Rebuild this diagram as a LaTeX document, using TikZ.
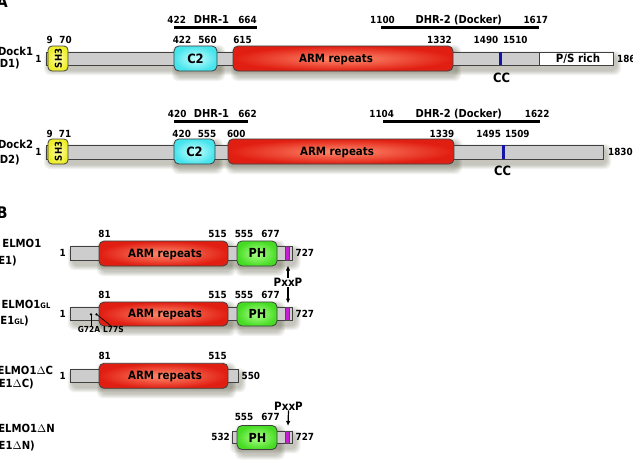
\documentclass[tikz,border=0pt]{standalone}
\usepackage{graphicx}
\usepackage{fontspec}
\setmainfont{DejaVu Sans}[FakeStretch=0.9]
\usetikzlibrary{arrows.meta}
\definecolor{armout}{RGB}{225,30,18}
\definecolor{armin}{RGB}{255,140,110}
\definecolor{c2out}{RGB}{70,228,236}
\definecolor{c2in}{RGB}{200,255,255}
\definecolor{sh3out}{RGB}{238,238,40}
\definecolor{sh3in}{RGB}{255,255,170}
\definecolor{phout}{RGB}{70,220,35}
\definecolor{phin}{RGB}{175,255,140}
\definecolor{pxxpc}{RGB}{200,30,210}
\definecolor{ccblue}{RGB}{20,20,170}
\definecolor{barg}{RGB}{205,205,205}
\definecolor{shadowcol}{RGB}{70,70,45}
\newcommand\pshadow[4]{\foreach \k in {0,1,2,3,4}{\fill[shadowcol, opacity=0.07, rounded corners=6pt] ({#1+2-\k},{#2+3-\k}) rectangle ({#3+4+\k},{#4+6+\k});}}
\tikzset{
  bar/.style={draw=black!75, line width=0.8pt, fill=barg},
  dom/.style={draw=black!75, line width=0.8pt, rounded corners=5pt},
  arm/.style={dom, inner color=armin, outer color=armout},
  ctwo/.style={dom, inner color=c2in, outer color=c2out},
  shthree/.style={dom, rounded corners=4pt, inner color=sh3in, outer color=sh3out},
  ph/.style={dom, inner color=phin, outer color=phout},
  num/.style={inner sep=0pt, font=\bfseries\fontsize{9.8}{11}\selectfont, text height=7.1pt, text depth=0pt},
  lab/.style={inner sep=0pt, font=\bfseries\fontsize{11.2}{13}\selectfont, text height=8.2pt, text depth=0pt, anchor=east},
  dhr/.style={inner sep=0pt, font=\bfseries\fontsize{11}{13}\selectfont, text height=8pt, text depth=0pt},
  domtxt/.style={inner sep=0pt, font=\bfseries\fontsize{11.4}{13}\selectfont, text height=8.3pt, text depth=0pt},
  bigtxt/.style={inner sep=0pt, font=\bfseries\fontsize{12.8}{15}\selectfont, text height=9.3pt, text depth=0pt},
  phtxt/.style={inner sep=0pt, font=\bfseries\fontsize{12.5}{15}\selectfont, text height=9.1pt, text depth=0pt},
  shtxt/.style={inner sep=0pt, font=\bfseries\fontsize{9.5}{11}\selectfont},
  muttxt/.style={inner sep=0pt, font=\bfseries\fontsize{8.3}{10}\selectfont, text height=6pt, text depth=0pt},
  pxtxt/.style={inner sep=0pt, font=\bfseries\fontsize{11.5}{13}\selectfont, text height=8.4pt, text depth=0pt},
  panel/.style={inner sep=0pt, font=\bfseries\fontsize{16}{18}\selectfont, anchor=base west},
  dhrline/.style={line width=3pt},
  arr/.style={line width=1.2pt, -{Latex[length=5pt,width=4.5pt]}},
  mutline/.style={line width=0.7pt},
}
\begin{document}
\begin{tikzpicture}[x=1pt,y=-1pt]
\useasboundingbox (0,0) rectangle (633,471);
\clip (0,0) rectangle (633,471);

% panel letters
\node[panel] (pA) at (-3.5,7.5) {A};
\node[panel] (pB) at (-3.5,218.3) {B};

% ================= Dock1 =================
\pshadow{46}{52}{613}{65}
\pshadow{233}{46}{453}{71}
\pshadow{174}{46}{217}{71}
\draw[bar] (46,52) rectangle (539,65);
\draw[bar, fill=white] (539,52) rectangle (613,65);
\node[domtxt] (ps1) at (578,58.5) {P/S rich};
\fill[ccblue] (499.2,52.4) rectangle (502,64.6);
\path[shthree] (48,46) rectangle (68,71);
\node[shtxt] (sh31) at (58.3,58.5) {\rotatebox{90}{SH3}};
\path[ctwo] (174,46) rectangle (217,71);
\node[bigtxt] (c21) at (195.5,58.5) {C2};
\path[arm] (233,46) rectangle (453,71);
\node[domtxt] (arm1) at (336,58.5) {ARM repeats};

\node[lab] (d1a) at (33.3,51) {Dock1};
\node[lab] (d1b) at (20,63.8) {(D1)};
\node[num, anchor=east] (d1s) at (41.7,58.8) {1};
\node[num, anchor=west] (d1e) at (617,58.5) {1865};
\node[num] at (49.7,40) {9};
\node[num] at (65.5,40) {70};
\node[num] at (182,40) {422};
\node[num] at (207.5,40) {560};
\node[num] at (242.5,40) {615};
\node[num] at (439.5,40) {1332};
\node[num] at (486,40) {1490};
\node[num] at (515.3,40) {1510};
\node[bigtxt] (cc1) at (501.7,77.5) {CC};

\coordinate (h1a) at (174,27.7); \coordinate (h1b) at (257,27.7);
\draw[dhrline] (h1a) -- (h1b);
\node[num] at (176.7,19.5) {422};
\node[dhr] at (211.5,19.5) {DHR-1};
\node[num] at (247.5,19.5) {664};
\coordinate (h2a) at (381,27.7); \coordinate (h2b) at (539,27.7);
\draw[dhrline] (h2a) -- (h2b);
\node[num] at (382.5,19.5) {1100};
\node[dhr] at (458.8,19.5) {DHR-2 (Docker)};
\node[num] at (535.8,19.5) {1617};

% ================= Dock2 =================
\pshadow{46}{145}{603}{159}
\pshadow{228}{139}{454}{164}
\pshadow{174}{139}{215}{164}
\draw[bar] (46,145) rectangle (603,159);
\fill[ccblue] (502,145.4) rectangle (504.8,158.6);
\path[shthree] (48,139) rectangle (68,164);
\node[shtxt] (sh32) at (58.3,151.5) {\rotatebox{90}{SH3}};
\path[ctwo] (174,139) rectangle (215,164);
\node[bigtxt] (c22) at (194.5,151.5) {C2};
\path[arm] (228,139) rectangle (454,164);
\node[domtxt] (arm2) at (337,151.5) {ARM repeats};

\node[lab] (d2a) at (33.3,144.2) {Dock2};
\node[lab] (d2b) at (20,159.5) {(D2)};
\node[num, anchor=east] (d2s) at (41.7,152) {1};
\node[num, anchor=west] (d2e) at (608,152) {1830};
\node[num] at (49.7,133.7) {9};
\node[num] at (65,133.7) {71};
\node[num] at (181.7,133.7) {420};
\node[num] at (207,133.7) {555};
\node[num] at (236.3,133.7) {600};
\node[num] at (442,133.7) {1339};
\node[num] at (488.7,133.7) {1495};
\node[num] at (517.3,133.7) {1509};
\node[bigtxt] (cc2) at (502.7,170.8) {CC};

\coordinate (h3a) at (174,121); \coordinate (h3b) at (248,121);
\draw[dhrline] (h3a) -- (h3b);
\node[num] at (177.2,113.5) {420};
\node[dhr] at (211.5,113.5) {DHR-1};
\node[num] at (247.5,113.5) {662};
\coordinate (h4a) at (383,121); \coordinate (h4b) at (540,121);
\draw[dhrline] (h4a) -- (h4b);
\node[num] at (381.7,113.5) {1104};
\node[dhr] at (458.8,113.5) {DHR-2 (Docker)};
\node[num] at (537.2,113.5) {1622};

% ================= ELMO1 =================
\pshadow{70}{246}{292.5}{260}
\pshadow{99}{241}{228}{266}
\pshadow{237}{241}{277}{266}
\draw[bar] (70,246) rectangle (292.5,260);
\filldraw[fill=pxxpc, draw=black!70, line width=0.5pt] (285.5,246) rectangle (289.5,260);
\path[arm] (99,241) rectangle (228,266);
\node[domtxt] (arm3) at (165,253.3) {ARM repeats};
\path[ph] (237,241) rectangle (277,266);
\node[phtxt] (ph1) at (257.5,253.3) {PH};
\node[lab] (e1a) at (41.5,243.3) {ELMO1};
\node[lab] (e1b) at (17,260) {(E1)};
\node[num, anchor=east] (e1s) at (66,253) {1};
\node[num, anchor=west] (e1e) at (295.5,253) {727};
\node[num] at (104.5,234) {81};
\node[num] at (217.5,234) {515};
\node[num] at (244,234) {555};
\node[num] at (270.5,234) {677};

% PxxP between
\node[pxtxt] (pxA) at (288,282.5) {PxxP};
\coordinate (s1b) at (288,265.5);
\coordinate (s2t) at (288,303.5);
\draw[arr] (pxA.north) -- (s1b);
\draw[arr] (pxA.south) -- (s2t);

% ================= ELMO1GL =================
\pshadow{70}{307}{292.5}{320}
\pshadow{99}{302}{228}{326}
\pshadow{237}{302}{277}{326}
\draw[bar] (70,307) rectangle (292.5,320);
\filldraw[fill=pxxpc, draw=black!70, line width=0.5pt] (285.5,307) rectangle (289.5,320);
\path[arm] (99,302) rectangle (228,326);
\node[domtxt] (arm4) at (165,313.8) {ARM repeats};
\path[ph] (237,302) rectangle (277,326);
\node[phtxt] (ph2) at (257.5,313.8) {PH};
\node[lab] (e2a) at (50.5,304.2) {ELMO1{\fontsize{7.5}{8}\selectfont GL}};
\node[lab] (e2b) at (29,320) {(E1{\fontsize{7.5}{8}\selectfont GL})};
\node[num, anchor=east] (e2s) at (66,313.5) {1};
\node[num, anchor=west] (e2e) at (295.5,313.5) {727};
\node[num] at (104.5,295.3) {81};
\node[num] at (217.5,295.3) {515};
\node[num] at (244,295.3) {555};
\node[num] at (270.5,295.3) {677};

% mutations
\coordinate (g72) at (91,314.3);
\coordinate (l77) at (96.5,314.3);
\fill (g72) circle (1.3);
\fill (l77) circle (1.3);
\node[muttxt] (g72lab) at (89,329.5) {G72A};
\node[muttxt] (l77lab) at (113.5,329.5) {L77S};
\draw[mutline] (g72) -- (g72 |- g72lab.north);
\draw[mutline] (l77) -- ([xshift=-2pt]l77lab.north);

% ================= ELMO1 dC =================
\pshadow{70}{369.3}{238}{382.3}
\pshadow{99}{363.3}{228}{388.3}
\draw[bar] (70,369.3) rectangle (238,382.3);
\path[arm] (99,363.3) rectangle (228,388.3);
\node[domtxt] (arm5) at (165,375.8) {ARM repeats};
\node[lab] (e3a) at (53.3,370) {ELMO1$\Delta$C};
\node[lab] (e3b) at (34,383.3) {(E1$\Delta$C)};
\node[num, anchor=east] (e3s) at (66,375.8) {1};
\node[num, anchor=west] (e3e) at (241.5,375.8) {550};
\node[num] at (104.7,355.8) {81};
\node[num] at (217.5,355.8) {515};

% ================= ELMO1 dN =================
\pshadow{232}{431}{292.5}{443.3}
\pshadow{237}{425.5}{277}{449.5}
\draw[bar] (232,431) rectangle (292.5,443.3);
\filldraw[fill=pxxpc, draw=black!70, line width=0.5pt] (285.5,431) rectangle (289.5,443.3);
\path[ph] (237,425.5) rectangle (277,449.5);
\node[phtxt] (ph3) at (257.5,437.5) {PH};
\node[lab] (e4a) at (55,428.7) {ELMO1$\Delta$N};
\node[lab] (e4b) at (35,445.3) {(E1$\Delta$N)};
\node[num, anchor=east] (e4s) at (230,437) {532};
\node[num, anchor=west] (e4e) at (295.5,437) {727};
\node[num] at (244,417.3) {555};
\node[num] at (270.5,417.3) {677};
\node[pxtxt] (pxB) at (288.5,406) {PxxP};
\coordinate (s4t) at (288,426);
\draw[arr] (pxB.south) -- (s4t);
\end{tikzpicture}
\end{document}
